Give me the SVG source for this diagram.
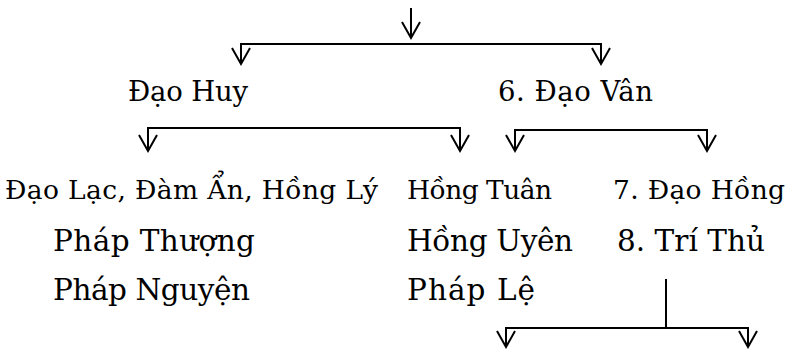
<svg xmlns="http://www.w3.org/2000/svg" width="786" height="349" viewBox="0 0 786 349">
<style>
.t{font-family:"DejaVu Serif","Liberation Serif",serif;fill:#000}
.l2{font-size:27.5px}
.l3{font-size:26.5px}
.l4{font-size:29.5px}
.c{fill:none;stroke:#000;stroke-width:2}
</style>
<defs>
<path id="ah" d="M-9,-16 L0,0 L9,-16" fill="none" stroke="#000" stroke-width="2"/>
</defs>
<g id="connectors">
<path class="c" d="M411,8 V38"/>
<use href="#ah" x="411" y="38"/>
<path class="c" d="M241,64 V44 H601 V64"/>
<use href="#ah" x="241" y="64"/>
<use href="#ah" x="601" y="64"/>
<path class="c" d="M148,151 V128 H460 V151"/>
<use href="#ah" x="148" y="151"/>
<use href="#ah" x="460" y="151"/>
<path class="c" d="M515,151 V130 H707 V151"/>
<use href="#ah" x="515" y="151"/>
<use href="#ah" x="707" y="151"/>
<path class="c" d="M666,279 V328"/>
<path class="c" d="M506,347 V328 H748 V347"/>
<use href="#ah" x="506" y="347"/>
<use href="#ah" x="748" y="347"/>
</g>
<g id="dao-huy"><text class="t l2" x="128" y="101" textLength="120" lengthAdjust="spacing">Đạo Huy</text></g>
<g id="dao-van"><text class="t l2" x="498" y="101" textLength="155" lengthAdjust="spacing">6. Đạo Vân</text></g>
<g id="dao-lac"><text class="t l3" x="5" y="199" textLength="373" lengthAdjust="spacing">Đạo Lạc, Đàm Ẩn, Hồng Lý</text></g>
<g id="hong-tuan"><text class="t l3" x="407" y="199" textLength="145" lengthAdjust="spacing">Hồng Tuân</text></g>
<g id="dao-hong"><text class="t l3" x="613" y="199" textLength="172" lengthAdjust="spacing">7. Đạo Hồng</text></g>
<g id="phap-thuong"><text class="t l4" x="53" y="251" textLength="202" lengthAdjust="spacing">Pháp Thượng</text></g>
<g id="hong-uyen"><text class="t l4" x="407" y="251" textLength="166" lengthAdjust="spacing">Hồng Uyên</text></g>
<g id="tri-thu"><text class="t l4" x="617" y="251" textLength="148" lengthAdjust="spacing">8. Trí Thủ</text></g>
<g id="phap-nguyen"><text class="t l4" x="53" y="300" textLength="197" lengthAdjust="spacing">Pháp Nguyện</text></g>
<g id="phap-le"><text class="t l4" x="407" y="300" textLength="128" lengthAdjust="spacing">Pháp Lệ</text></g>
</svg>
